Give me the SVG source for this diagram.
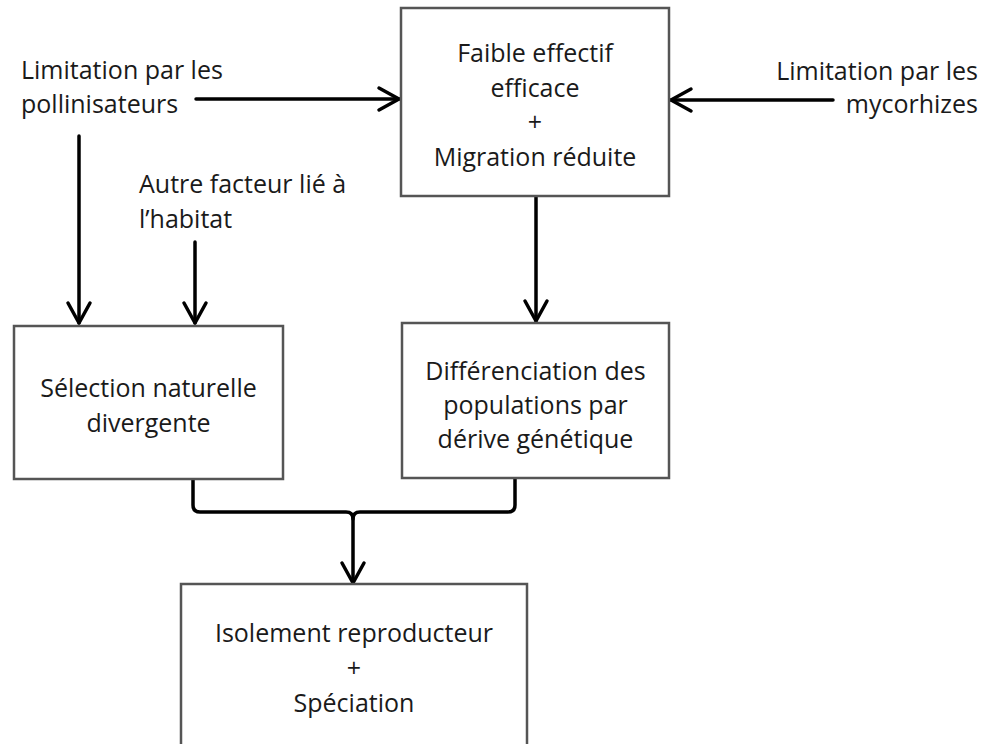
<svg xmlns="http://www.w3.org/2000/svg" width="985" height="744" viewBox="0 0 985 744">
<style>
.box{fill:#fff;stroke:#555;stroke-width:2.5}
.t{font-family:"Open Sans","Liberation Sans",sans-serif;font-size:25px;fill:#1a1a1a}
.m{text-anchor:middle}
.e{text-anchor:end}
.c{fill:none;stroke:#000;stroke-width:3.5;stroke-linecap:round;stroke-linejoin:round}
</style>
<defs>
<marker id="ah" markerUnits="userSpaceOnUse" viewBox="-24 -14 28 28" refX="0" refY="0" markerWidth="28" markerHeight="28" orient="auto" overflow="visible">
<path d="M-20,-11 L0,0 L-20,11" fill="none" stroke="#000" stroke-width="3.5" stroke-linecap="round" stroke-linejoin="round"/>
</marker>
</defs>
<rect width="985" height="744" fill="#fff"/>
<g id="connectors">
<path class="c" d="M196,99 H399" marker-end="url(#ah)"/>
<path class="c" d="M833,100 H671" marker-end="url(#ah)"/>
<path class="c" d="M79,136 V323" marker-end="url(#ah)"/>
<path class="c" d="M195,242 V323" marker-end="url(#ah)"/>
<path class="c" d="M536,197 V321" marker-end="url(#ah)"/>
<path class="c" d="M193,479 V505 Q193,512 200,512 H346 Q353,512 353,519 V583" marker-end="url(#ah)"/>
<path class="c" d="M515,479 V505 Q515,512 508,512 H360 Q353,512 353,519"/>
</g>
<g id="lbl-pollinisateurs">
<text class="t" x="21" y="79">Limitation par les</text>
<text class="t" x="21" y="113">pollinisateurs</text>
</g>
<g id="lbl-mycorhizes">
<text class="t e" x="978" y="80">Limitation par les</text>
<text class="t e" x="978" y="113">mycorhizes</text>
</g>
<g id="lbl-habitat">
<text class="t" x="139" y="193">Autre facteur lié à</text>
<text class="t" x="139" y="228">l’habitat</text>
</g>
<g id="node-effectif">
<rect class="box" x="401" y="8" width="268" height="188"/>
<text class="t m" x="535" y="62">Faible effectif</text>
<text class="t m" x="535" y="97">efficace</text>
<text class="t m" x="535" y="131">+</text>
<text class="t m" x="535" y="166">Migration réduite</text>
</g>
<g id="node-selection">
<rect class="box" x="14" y="326" width="269" height="153"/>
<text class="t m" x="148.5" y="397">Sélection naturelle</text>
<text class="t m" x="148.5" y="432">divergente</text>
</g>
<g id="node-differenciation">
<rect class="box" x="402" y="323" width="267" height="155"/>
<text class="t m" x="535.5" y="380">Différenciation des</text>
<text class="t m" x="535.5" y="414">populations par</text>
<text class="t m" x="535.5" y="448">dérive génétique</text>
</g>
<g id="node-isolement">
<rect class="box" x="181" y="584" width="346" height="180"/>
<text class="t m" x="354" y="642">Isolement reproducteur</text>
<text class="t m" x="354" y="677">+</text>
<text class="t m" x="354" y="712">Spéciation</text>
</g>
</svg>
